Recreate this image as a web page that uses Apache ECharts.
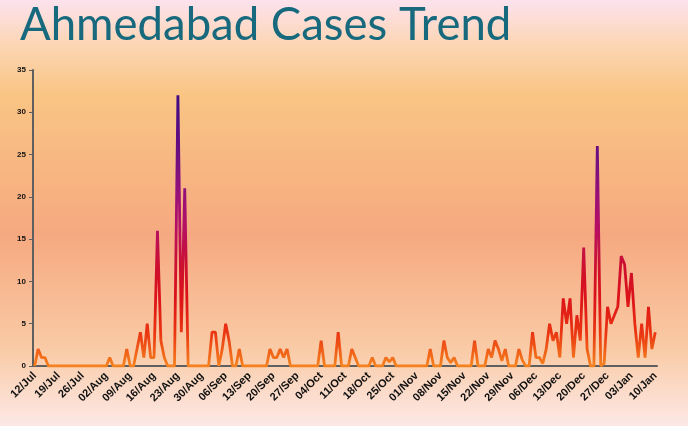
<!DOCTYPE html>
<html lang="en">
<head>
    <meta charset="UTF-8">
    <title>Ahmedabad Cases Trend</title>
    <script src="https://cdn.jsdelivr.net/npm/echarts@6/dist/echarts.min.js"></script>
    <style>
        html, body {
            margin: 0;
            padding: 0;
        }

        #chart {
            width: 688px;
            height: 426px;
        }
    </style>
</head>
<body>
    <div id="chart"></div>

    <script>
        // first day of the series, one value per day after it
        const startDate = [2020, 6, 12];
        const monthNames = ['Jan', 'Feb', 'Mar', 'Apr', 'May', 'Jun', 'Jul', 'Aug', 'Sep', 'Oct', 'Nov', 'Dec'];

        // daily cases, one row per week (12/Jul ... 10/Jan)
        const cases = [
            0, 2, 1, 1, 0, 0, 0,
            0, 0, 0, 0, 0, 0, 0,
            0, 0, 0, 0, 0, 0, 0,
            0, 1, 0, 0, 0, 0, 2,
            0, 0, 2, 4, 1, 5, 1,
            1, 16, 3, 1, 0, 0, 0,
            32, 4, 21, 0, 0, 0, 0,
            0, 0, 0, 4, 4, 0, 2,
            5, 3, 0, 0, 2, 0, 0,
            0, 0, 0, 0, 0, 0, 2,
            1, 1, 2, 1, 2, 0, 0,
            0, 0, 0, 0, 0, 0, 0,
            3, 0, 0, 0, 0, 4, 0,
            0, 0, 2, 1, 0, 0, 0,
            0, 1, 0, 0, 0, 1, 0.5,
            1, 0, 0, 0, 0, 0, 0,
            0, 0, 0, 0, 2, 0, 0,
            0, 3, 1, 0.4, 1, 0, 0,
            0, 0, 0, 3, 0, 0, 0,
            2, 1, 3, 2, 0.6, 2, 0,
            0, 0, 2, 0.7, 0, 0, 4,
            1, 1, 0.3, 2, 5, 3, 4,
            1, 8, 5, 8, 1, 6, 3,
            14, 2, 0, 0, 26, 0, 0.3,
            7, 5, 6, 7, 13, 12, 7,
            11, 5, 1, 5, 1, 7, 2,
            4
        ];

        const dates = [];
        for (let i = 0; i < cases.length; i++) {
            const d = new Date(startDate[0], startDate[1], startDate[2] + i);
            const dd = String(d.getDate()).padStart(2, '0');
            dates.push(dd + '/' + monthNames[d.getMonth()]);
        }

        const chart = echarts.init(document.getElementById('chart'));
        const option = {
            backgroundColor: new echarts.graphic.LinearGradient(0, 0, 0, 1, [
                { offset: 0, color: '#fde2ee' },
                { offset: 0.1, color: '#fcd6b6' },
                { offset: 0.22, color: '#f9c584' },
                { offset: 0.55, color: '#f6a980' },
                { offset: 0.82, color: '#f9cba6' },
                { offset: 1, color: '#fde8e6' }
            ]),
            title: {
                text: 'Ahmedabad Cases Trend',
                left: 15,
                top: -3,
                textStyle: {
                    fontFamily: 'Lato',
                    fontSize: 45.5,
                    fontWeight: 'normal',
                    color: '#17697d'
                }
            },
            grid: {
                left: 33,
                right: 31,
                top: 70,
                bottom: 60
            },
            visualMap: {
                show: false,
                type: 'continuous',
                dimension: 1,
                seriesIndex: 0,
                min: 0,
                max: 32,
                inRange: {
                    color: ['#f5821e', '#ea3412', '#dc1218', '#cc1030', '#b81060',
                        '#9a1078', '#761080', '#560c84', '#3c0a84']
                }
            },
            xAxis: {
                type: 'category',
                data: dates,
                boundaryGap: true,
                axisLine: {
                    lineStyle: { color: '#5f5f5f', width: 2 }
                },
                axisTick: {
                    interval: 6,
                    length: 4,
                    lineStyle: { color: '#5f5f5f' }
                },
                axisLabel: {
                    interval: 6,
                    rotate: 45,
                    fontSize: 11,
                    fontWeight: 'bold',
                    color: '#111',
                    margin: 8
                },
                splitLine: { show: false }
            },
            yAxis: {
                type: 'value',
                min: 0,
                max: 35,
                interval: 5,
                axisLine: {
                    show: true,
                    lineStyle: { color: '#5f5f5f', width: 2 }
                },
                axisTick: {
                    show: true,
                    length: 4,
                    lineStyle: { color: '#5f5f5f' }
                },
                axisLabel: {
                    fontSize: 8,
                    fontWeight: 'bold',
                    color: '#111',
                    margin: 7
                },
                splitLine: { show: false }
            },
            series: [{
                name: 'Cases',
                type: 'line',
                data: cases,
                symbol: 'none',
                lineStyle: {
                    width: 2.8
                }
            }]
        };
        chart.setOption(option);
    </script>
</body>
</html>
